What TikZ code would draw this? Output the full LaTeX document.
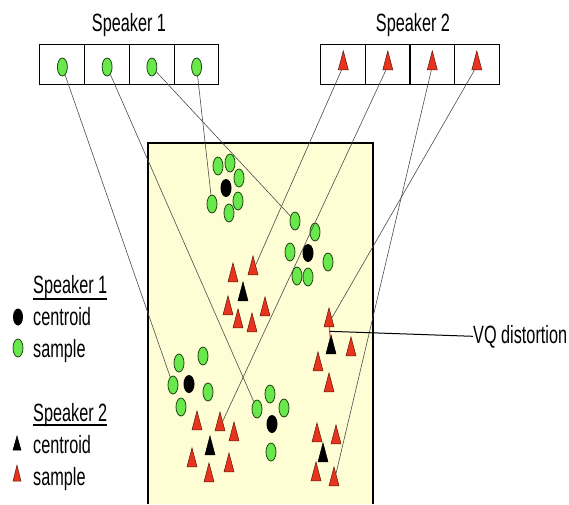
\documentclass[tikz,border=0pt]{standalone}
\usepackage{fontspec}
\setmainfont{Liberation Sans}
\usepackage{graphicx}
\usepackage{xcolor}
\usepackage{tikz}
\usetikzlibrary{shapes.geometric}

\definecolor{cream}{RGB}{255,253,212}
\definecolor{leaf}{RGB}{104,232,74}
\definecolor{leafedge}{RGB}{30,70,20}
\definecolor{brick}{RGB}{232,52,30}
\definecolor{brickedge}{RGB}{90,25,10}
\newcommand{\squeeze}[1]{\scalebox{0.65}[1]{#1}}

\begin{document}
\begin{tikzpicture}[x=1pt, y=-1pt]
            \tikzstyle{cell} = [draw=black, line width=1pt, minimum width=44.75pt, minimum height=40pt, inner sep=0pt]
            \tikzstyle{sample} = [ellipse, draw=leafedge, fill=leaf, line width=0.8pt, minimum width=10pt, minimum height=18pt, inner sep=0pt]
            \tikzstyle{centroid} = [ellipse, fill=black, minimum width=11pt, minimum height=18pt, inner sep=0pt]
            \tikzstyle{tri} = [isosceles triangle, isosceles triangle stretches, shape border rotate=90, draw=brickedge, fill=brick, line width=0.5pt, minimum width=10pt, minimum height=19pt, inner sep=0pt]
            \tikzstyle{tricent} = [tri, draw=black, fill=black]
            \tikzstyle{link} = [draw=black!70, line width=0.6pt]
            \tikzstyle{txt} = [font=\fontsize{25}{28}\selectfont, inner sep=0pt]

            \useasboundingbox (0,0) rectangle (569,504);

            % feature space
            \fill [cream] (148,143) rectangle (373,504);
            \draw [line width=1.2pt] (148,504) -- (148,143) -- (373,143) -- (373,504);

            % codebooks
            \node [txt, anchor=base] (T1) at (129,31) {\squeeze{Speaker 1}};
            \node [txt, anchor=base] (T2) at (413,31) {\squeeze{Speaker 2}};
            \foreach \i in {1, ..., 4} {
                \node [cell] (P\i) at (17.6+44.75*\i, 64) {};
                \node [sample] (p\i) at (17.6+44.75*\i, 67) {};
                \node [cell] (Q\i) at (298.8+44.5*\i, 64) {};
                \node [tri] (q\i) at (298.8+44.5*\i, 66) {};
            }

            % speaker 1 clusters
            \node [centroid] (cA) at (226,188) {};
            \node [centroid] (cB) at (308,253) {};
            \node [centroid] (cC) at (189,384) {};
            \node [centroid] (cD) at (272,424) {};
            \foreach \x/\y [count=\k] in {218/166, 230/163, 239/178, 238/201, 229/213,
                                          315/232, 290/252, 328/262, 297/276, 308/277,
                                          179/363, 203/356, 208/392, 181/407,
                                          270/394, 284/408, 271/452}
                \node [sample] (g\k) at (\x,\y) {};
            \node [sample] (gA) at (212,204) {};
            \node [sample] (gB) at (295,221) {};
            \node [sample] (gC) at (173,385) {};
            \node [sample] (gD) at (257,409) {};

            % speaker 2 clusters
            \node [tricent] (cE) at (243,297) {};
            \node [tricent] (cF) at (210,451) {};
            \node [tricent] (cG) at (331,350) {};
            \node [tricent] (cH) at (323,458) {};
            \foreach \x/\y [count=\k] in {233/278, 228/311, 265/312, 238/324, 252/328,
                                          197/426, 234/437, 192/463, 229/468, 209/478,
                                          351/352, 318/367, 329/388,
                                          317/438, 336/440, 316/477}
                \node [tri] (r\k) at (\x,\y) {};
            \node [tri] (rE) at (253,271) {};
            \node [tri] (rF) at (220,427) {};
            \node [tri] (rG) at (329,323) {};
            \node [tri] (rH) at (334,482) {};

            \draw [link] (p1) -- (gC);
            \draw [link] (p2) -- (gD);
            \draw [link] (p3) -- (gB);
            \draw [link] (p4) -- (gA);
            \draw [link] (q1) -- (rE);
            \draw [link] (q2) -- (rF);
            \draw [link] (q3) -- (rH);
            \draw [link] (q4) -- (rG);

            % distortion
            \draw [red!75!white, line width=1pt] (rG) -- coordinate[pos=0.4] (D) (cG);
            \node [txt, anchor=base west] (VQ) at (473,343) {\squeeze{VQ distortion}};
            \draw [line width=1pt] (D) -- (VQ.west);

            % legend
            \node [txt, anchor=base west] (L1) at (33,293) {\squeeze{Speaker 1}};
            \draw [line width=1.5pt] ([yshift=-6pt]L1.base west) -- ([yshift=-6pt]L1.base east);
            \node [centroid, minimum width=10pt, minimum height=17pt] (k1) at (18,317) {};
            \node [txt, anchor=base west] (L2) at (33,325) {\squeeze{centroid}};
            \node [sample] (k2) at (18,348) {};
            \node [txt, anchor=base west] (L3) at (33,357) {\squeeze{sample}};
            \node [txt, anchor=base west] (L4) at (33,421) {\squeeze{Speaker 2}};
            \draw [line width=1.5pt] ([yshift=-4pt]L4.base west) -- ([yshift=-4pt]L4.base east);
            \node [tricent, minimum width=8pt, minimum height=14pt] (k3) at (17,447) {};
            \node [txt, anchor=base west] (L5) at (33,453) {\squeeze{centroid}};
            \node [tri, minimum width=8pt, minimum height=16pt] (k4) at (17,478) {};
            \node [txt, anchor=base west] (L6) at (33,485) {\squeeze{sample}};

        \end{tikzpicture}
\end{document}
